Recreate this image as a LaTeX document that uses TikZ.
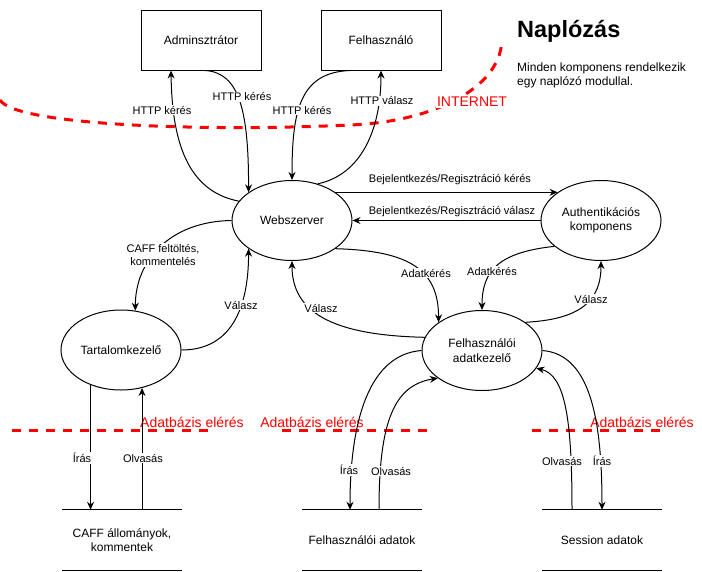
\documentclass[tikz,border=0pt]{standalone}
\usepackage{fontspec}
\setmainfont{Liberation Sans}
\usetikzlibrary{shapes.geometric,arrows.meta}
\begin{document}
\begin{tikzpicture}[x=1pt,y=-1pt,
  ell/.style={ellipse, draw, line width=1pt, minimum width=120pt, minimum height=80pt, inner sep=0pt, align=center, font=\fontsize{12}{14.4}\selectfont},
  box/.style={rectangle, draw, line width=1pt, minimum width=120pt, minimum height=60pt, font=\fontsize{12}{14.4}\selectfont},
  store/.style={minimum width=120pt, minimum height=60pt, inner sep=0pt, align=center, font=\fontsize{12}{14.4}\selectfont},
  storeline/.style={line width=1pt},
  conn/.style={line width=1pt, -{Stealth[length=8pt,width=7pt]}},
  lbl/.style={fill=white, inner sep=1pt, align=center, font=\fontsize{11}{13}\selectfont},
  redline/.style={draw=red, line width=3pt, dash pattern=on 9pt off 8pt},
  redtext/.style={text=red, inner sep=0pt, font=\fontsize{14}{16}\selectfont},
]
\useasboundingbox (0,0) rectangle (702,571);

% red boundaries
\draw[redline] (0,100) .. controls (15,125) and (200,132) .. (350,125)
               .. controls (430,122) and (500,90) .. (502,40);
\node[redtext, fill=white, inner sep=1pt] (inet) at (472,102) {INTERNET};
\draw[redline] (12,430) -- (213,430);
\draw[redline] (282,430) -- (433,430);
\draw[redline] (532,430) -- (662,430);
\node[redtext, anchor=base] (db1) at (192,427) {Adatbázis elérés};
\node[redtext, anchor=base] (db2) at (312,427) {Adatbázis elérés};
\node[redtext, anchor=base] (db3) at (642,427) {Adatbázis elérés};

% title
\node[anchor=base west, inner sep=0pt, font=\bfseries\fontsize{23.5}{28}\selectfont] (napl) at (517,37) {Naplózás};
\node[anchor=north west, inner sep=0pt, align=left, font=\fontsize{12}{14}\selectfont] (desc) at (517,62.5) {Minden komponens rendelkezik\\egy naplózó modullal.};

% nodes
\node[box] (adm) at (201,40) {Adminsztrátor};
\node[box] (felh) at (381,40) {Felhasználó};
\node[ell] (ws) at (292,220.5) {Webszerver};
\node[ell] (auth) at (601,220.5) {Authentikációs\\komponens};
\node[ell] (tk) at (121,350) {Tartalomkezelő};
\node[ell] (ak) at (482,350.5) {Felhasználói\\adatkezelő};

\node[store] (caff) at (122,540) {CAFF állományok,\\kommentek};
\node[store] (fadat) at (362,540) {Felhasználói adatok};
\node[store] (sess) at (602,540) {Session adatok};
\foreach \s in {caff,fadat,sess}{
  \draw[storeline] (\s.north west) -- (\s.north east);
  \draw[storeline] (\s.south west) -- (\s.south east);
}

% connectors
\draw[conn] (ws.160) .. controls +(-52,-10) and +(1,70) .. ([xshift=-30pt]adm.south)
  node[lbl, at={(162,110)}] {HTTP kérés};
\draw[conn] ([xshift=4pt]adm.south) .. controls +(35,2) and +(0,-80) .. (ws.147)
  node[lbl, at={(242,97)}] {HTTP kérés};
\draw[conn] ([xshift=-31pt]felh.south) .. controls +(-50,2) and +(0,-70) .. (ws.90)
  node[lbl, at={(302,110)}] {HTTP kérés};
\draw[conn] (ws.55) .. controls +(43,-9) and +(0,60) .. (felh.south)
  node[lbl, at={(382,101)}] {HTTP válasz};

\draw[conn] (ws.33) -- (auth.147)
  node[lbl, at={(450,180)}] {Bejelentkezés/Regisztráció kérés};
\draw[conn] (auth.180) -- (ws.0)
  node[lbl, at={(452,212)}] {Bejelentkezés/Regisztráció válasz};

\draw[conn] (ws.327) .. controls +(75,2) and +(0,-52) .. (ak.147)
  node[lbl, at={(426,273)}] {Adatkérés};
\draw[conn] (auth.209) .. controls +(-55,6) and +(0,-40) .. (ak.90)
  node[lbl, at={(492,271)}] {Adatkérés};
\draw[conn] (ak.33) .. controls +(55,-3) and +(0,40) .. (auth.270)
  node[lbl, at={(591,299)}] {Válasz};
\draw[conn] (ak.167) .. controls +(-95,-2) and +(0,50) .. (ws.270)
  node[lbl, at={(321,308)}] {Válasz};

\draw[conn] (ws.180) .. controls +(-62,1) and +(0,-50) .. (tk.70)
  node[lbl, at={(163,255)}] {CAFF feltöltés,\\kommentelés};
\draw[conn] (tk.0) .. controls +(54,0) and +(0,52) .. (ws.213)
  node[lbl, at={(241,305)}] {Válasz};

\draw[conn] (tk.229) -- (tk.229 |- caff.north)
  node[lbl, at={(82,458)}] {Írás};
\draw[conn] (caff.north -| tk.299) -- (tk.299)
  node[lbl, at={(143,458)}] {Olvasás};

\draw[conn] (ak.180) .. controls +(-52,4) and +(0,-90) .. ([xshift=-12pt]fadat.north)
  node[lbl, at={(349,470)}] {Írás};
\draw[conn] ([xshift=17pt]fadat.north) .. controls +(0,-90) and +(-43,7) .. (ak.212)
  node[lbl, at={(391,471)}] {Olvasás};
\draw[conn] ([xshift=-30pt]sess.north) .. controls +(0,-90) and +(29,7) .. (ak.342)
  node[lbl, at={(562,461)}] {Olvasás};
\draw[conn] (ak.0) .. controls +(48,4) and +(0,-90) .. (sess.north)
  node[lbl, at={(602,461)}] {Írás};
\end{tikzpicture}
\end{document}
